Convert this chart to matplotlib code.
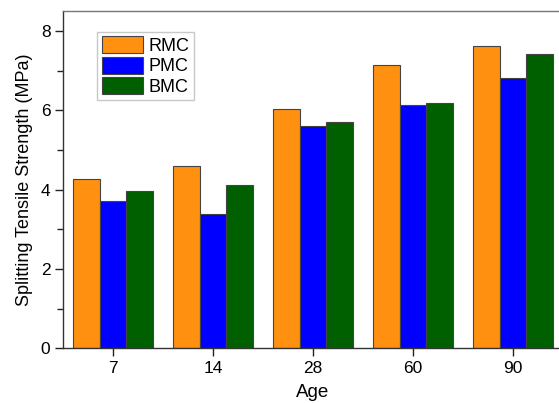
import matplotlib
matplotlib.use("Agg")
import matplotlib.pyplot as plt
import numpy as np
from matplotlib.ticker import MultipleLocator

ages = ["7", "14", "28", "60", "90"]
rmc = [4.27, 4.59, 6.03, 7.15, 7.61]
pmc = [3.70, 3.38, 5.60, 6.14, 6.80]
bmc = [3.97, 4.12, 5.70, 6.19, 7.41]

series = [("RMC", rmc, "#FF9010"), ("PMC", pmc, "#0000FF"), ("BMC", bmc, "#006000")]

plt.rcParams["font.family"] = ["Liberation Sans", "DejaVu Sans"]

fig = plt.figure(figsize=(5.59, 4.03), dpi=100)
ax = fig.add_axes([0.1127, 0.1357, 0.8943, 0.837])

x = np.arange(len(ages))
w = 0.267
for i, (name, vals, col) in enumerate(series):
    ax.bar(x + (i - 1) * w, vals, width=w, color=col, edgecolor="#444444",
           linewidth=0.8, label=name)

ax.set_xlim(-0.5, 4.5)
ax.set_ylim(0, 8.5)
ax.set_xticks(x)
ax.set_xticklabels(ages)
ax.yaxis.set_major_locator(MultipleLocator(2))
ax.yaxis.set_minor_locator(MultipleLocator(1))
ax.tick_params(axis="both", which="major", labelsize=12.5, direction="out",
               length=6, width=1, color="#222222", pad=3)
ax.tick_params(axis="y", which="minor", direction="out", length=4, width=1,
               color="#222222")
ax.tick_params(axis="x", which="minor", bottom=False)

for s in ax.spines.values():
    s.set_color("#333333")
    s.set_linewidth(1.0)
ax.spines["top"].set_color("#777777")

ax.set_xlabel("Age", fontsize=13.5, labelpad=6)
ax.set_ylabel("Splitting Tensile Strength (MPa)", fontsize=13, labelpad=6)

leg = ax.legend(loc="upper left", bbox_to_anchor=(0.068, 0.938), fontsize=13,
                frameon=True, fancybox=False, borderpad=0.25,
                handlelength=2.3, handleheight=1.05, labelspacing=0.1,
                handletextpad=0.33, borderaxespad=0)
leg.get_frame().set_edgecolor("#bbbbbb")
leg.get_frame().set_linewidth(1.0)

fig.savefig("out.png", dpi=100)
